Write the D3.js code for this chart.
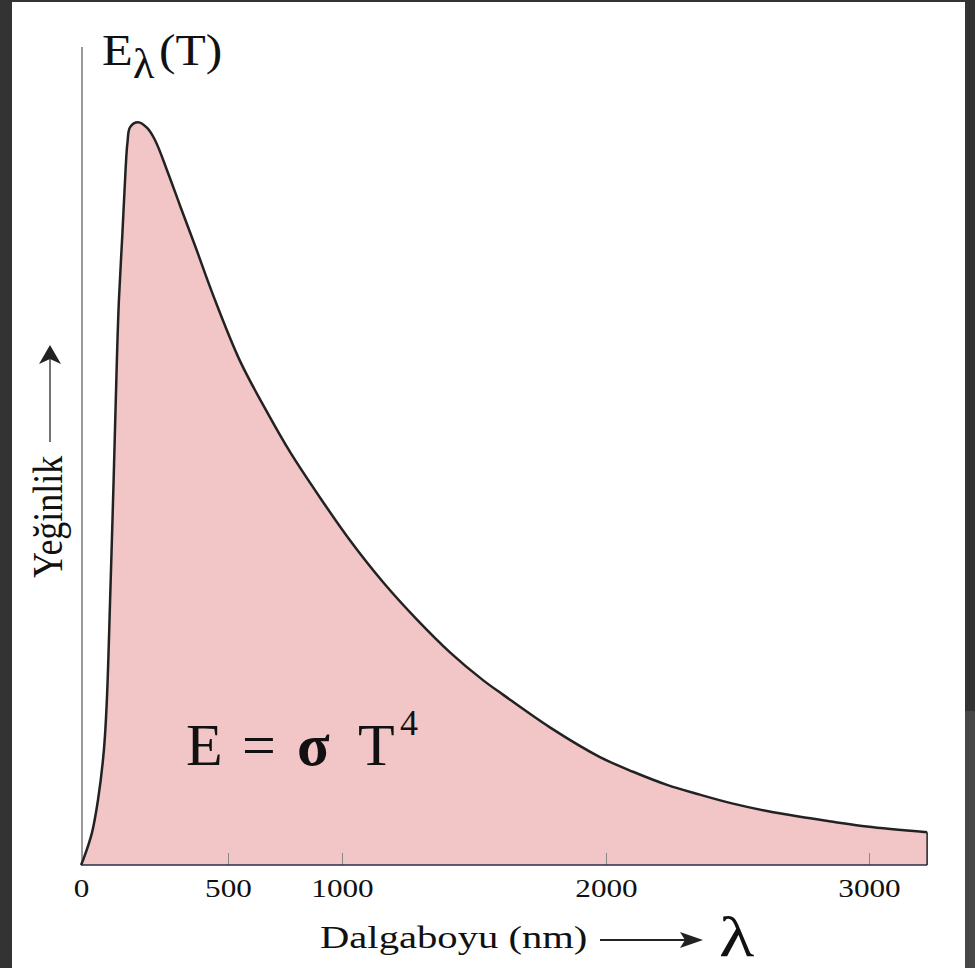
<!DOCTYPE html>
<html>
<head>
<meta charset="utf-8">
<script src="https://cdn.jsdelivr.net/npm/d3@7"></script>
<style>
  html, body { margin: 0; padding: 0; background: #333; }
  svg { display: block; }
  text { font-family: "Liberation Serif", "Times New Roman", serif; fill: #111; }
</style>
</head>
<body>
<div id="chart"></div>
<script>
// Blackbody curve (wavelength in nm, intensity in arbitrary units)
const wavelengths = [0, 7, 37, 58, 78, 88, 99, 111, 122, 129, 141, 152, 158, 167, 194, 225, 252, 296, 337, 388, 449,
  553, 671, 772, 904, 1030, 1155, 1284, 1409, 1534, 1611, 1789, 1977, 2103, 2232, 2357, 2483, 2612, 2738, 2863, 2992, 3221];
const intensity = [0, 0.6, 3.9, 8.0, 14.1, 20.2, 32.4, 47.1, 61.7, 69.1, 77.3, 85.3, 88.3, 90.2, 90.8, 90.1, 88.6, 84.6, 80.6, 75.7, 69.7,
  61.6, 55.4, 50.5, 44.9, 39.7, 34.6, 30.0, 26.0, 22.6, 20.8, 16.8, 13.2, 11.4, 9.8, 8.6, 7.5, 6.6, 5.9, 5.3, 4.7, 4.0];
const tickValues = [0, 500, 1000, 2000, 3000];

const width = 975;
const height = 968;

const data = wavelengths.map((w, i) => ({ w: w, v: intensity[i] }));
const xMax = d3.max(wavelengths);

const svg = d3.select("#chart")
  .append("svg")
  .attr("width", width)
  .attr("height", height);

// page background (slide frame)
svg.append("rect").attr("x", 0).attr("y", 0).attr("width", width).attr("height", height).attr("fill", "#333");
svg.append("rect").attr("x", 965).attr("y", 711).attr("width", 10).attr("height", height - 711).attr("fill", "#474747");
svg.append("rect").attr("x", 12).attr("y", 2).attr("width", 953).attr("height", height - 2).attr("fill", "#fff");

// the original axis is not evenly spaced, so the scale is piecewise
const x = d3.scaleLinear()
  .domain([0, 500, 1000, 2000, 3000])
  .range([81, 228, 342, 606, 869]);

const y = d3.scaleLinear()
  .domain([0, 100])
  .range([865, 47]);

const curve = d3.curveCatmullRom.alpha(0.5);

const area = d3.area()
  .x(d => x(d.w))
  .y0(y(0))
  .y1(d => y(d.v))
  .curve(curve);

const line = d3.line()
  .x(d => x(d.w))
  .y(d => y(d.v))
  .curve(curve);

svg.append("path")
  .datum(data)
  .attr("d", area)
  .attr("fill", "#f2c5c6");

// y axis line
svg.append("line")
  .attr("x1", 82).attr("x2", 82)
  .attr("y1", y(100)).attr("y2", y(0))
  .attr("stroke", "#777")
  .attr("stroke-width", 1.5);

// x axis
const xAxis = svg.append("g")
  .attr("transform", `translate(0, ${y(0)})`)
  .call(d3.axisBottom(x)
    .tickValues(tickValues)
    .tickFormat(d3.format("d"))
    .tickSizeInner(-12)
    .tickSizeOuter(0));

xAxis.select(".domain").remove();
xAxis.selectAll(".tick line")
  .attr("stroke", "#888")
  .attr("stroke-width", 1)
  .filter(d => d === 0).remove();
xAxis.selectAll(".tick text")
  .attr("y", null)
  .attr("dy", null)
  .attr("transform", "translate(0, 32) scale(1.2, 1)")
  .attr("font-family", "Liberation Serif, serif")
  .attr("font-size", 26)
  .attr("fill", "#222");

svg.append("line")
  .attr("x1", x(0)).attr("x2", x(xMax))
  .attr("y1", y(0)).attr("y2", y(0))
  .attr("stroke", "#2b2b4a")
  .attr("stroke-width", 1.5);

// right closing edge of the area
svg.append("line")
  .attr("x1", x(xMax)).attr("x2", x(xMax))
  .attr("y1", y(intensity[intensity.length - 1])).attr("y2", y(0))
  .attr("stroke", "#222")
  .attr("stroke-width", 1.5);

svg.append("path")
  .datum(data)
  .attr("d", line)
  .attr("fill", "none")
  .attr("stroke", "#222")
  .attr("stroke-width", 2.5);

// title E_lambda(T)
svg.append("text")
  .attr("transform", "translate(102, 65) scale(1.12, 1)")
  .attr("font-size", 45)
  .text("E");
svg.append("text")
  .attr("transform", "translate(133, 78) scale(1.05, 1)")
  .attr("font-size", 42)
  .text("λ");
svg.append("text")
  .attr("transform", "translate(159, 65) scale(1.1, 1)")
  .attr("font-size", 45)
  .text("(T)");

// y label with arrow
svg.append("text")
  .attr("transform", "translate(62, 578) scale(1.15, 1) rotate(-90)")
  .attr("font-size", 36)
  .text("Yeğinlik");

svg.append("line")
  .attr("x1", 50).attr("x2", 50)
  .attr("y1", 442).attr("y2", 358)
  .attr("stroke", "#444")
  .attr("stroke-width", 1.5);
svg.append("path")
  .attr("d", "M50,345 L61,364 L50,359 L39,364 Z")
  .attr("fill", "#222");

// x label with arrow
svg.append("text")
  .attr("transform", "translate(320, 948) scale(1.27, 1)")
  .attr("font-size", 32)
  .text("Dalgaboyu (nm)");

svg.append("line")
  .attr("x1", 600).attr("x2", 690)
  .attr("y1", 940).attr("y2", 940)
  .attr("stroke", "#222")
  .attr("stroke-width", 1.8);
svg.append("path")
  .attr("d", "M703,940 L680,932 L685,940 L680,948 Z")
  .attr("fill", "#222");

svg.append("text")
  .attr("transform", "translate(719, 956) scale(1.3, 1)")
  .attr("font-family", "Liberation Sans, Arial, sans-serif")
  .attr("font-size", 56)
  .text("λ");

// Stefan-Boltzmann formula
const formula = svg.append("text")
  .attr("y", 765)
  .attr("font-size", 60);
formula.append("tspan").attr("x", 186).text("E");
formula.append("tspan").attr("x", 242).text("=");
formula.append("tspan").attr("x", 297).attr("font-weight", "bold").text("σ");
formula.append("tspan").attr("x", 358).text("T");
formula.append("tspan").attr("x", 400).attr("y", 735).attr("font-size", 36).text("4");
</script>
</body>
</html>
